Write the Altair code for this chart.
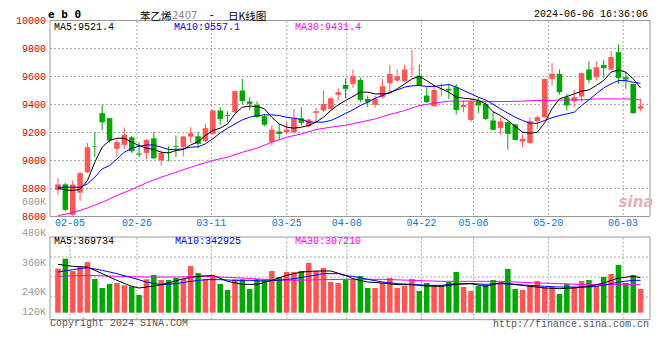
import altair as alt
import pandas as pd

# ---------------- data ----------------
date_labels = ["02-05", "02-26", "03-11", "03-25", "04-08", "04-22", "05-06", "05-20", "06-03"]
date_ticks = [1.64, 10.71, 20.8, 31.03, 39.16, 49.29, 56.36, 66.49, 76.63]

price_ticks = [10000, 9800, 9600, 9400, 9200, 9000, 8800, 8600]
price_grid = [9800, 9600, 9400, 9200, 9000, 8800]
vol_grid = [360000, 240000, 120000]

opens = [8790, 8830, 8612, 8770, 8916, 9102, 9338, 9302, 9083, 9112,
         9166, 9050, 9054, 9159, 9000, 9062, 9102, 9095, 9170, 9173,
         9140, 9190, 9357, 9324, 9345, 9500, 9421, 9397, 9316, 9131,
         9207, 9202, 9202, 9302, 9245, 9340, 9357, 9369, 9469, 9540,
         9547, 9576, 9440, 9397, 9452, 9552, 9571, 9566, 9652, 9607,
         9464, 9388, 9505, 9512, 9524, 9381, 9290, 9424, 9404, 9286,
         9233, 9274, 9257, 9136, 9124, 9281, 9309, 9583, 9619, 9452,
         9424, 9457, 9650, 9595, 9683, 9650, 9774, 9595, 9547, 9370]
closes = [8829, 8648, 8828, 8910, 9095, 9098, 9273, 9143, 9131, 9183,
          9066, 9042, 9147, 9016, 9054, 9056, 9096, 9172, 9195, 9119,
          9231, 9357, 9297, 9318, 9495, 9424, 9405, 9310, 9255, 9221,
          9190, 9221, 9302, 9269, 9293, 9352, 9404, 9445, 9488, 9512,
          9602, 9433, 9416, 9440, 9531, 9619, 9600, 9650, 9656, 9536,
          9417, 9504, 9509, 9500, 9361, 9397, 9421, 9393, 9297, 9219,
          9279, 9190, 9147, 9154, 9281, 9309, 9583, 9619, 9488, 9393,
          9452, 9624, 9576, 9666, 9660, 9738, 9590, 9578, 9338, 9388]
highs = [8874, 8840, 8857, 8920, 9126, 9202, 9397, 9305, 9150, 9236,
         9174, 9131, 9154, 9202, 9071, 9102, 9180, 9176, 9238, 9202,
         9261, 9362, 9381, 9352, 9500, 9583, 9452, 9421, 9333, 9250,
         9261, 9274, 9369, 9381, 9297, 9376, 9500, 9452, 9516, 9588,
         9650, 9595, 9464, 9464, 9583, 9683, 9650, 9683, 9790, 9686,
         9524, 9536, 9552, 9547, 9547, 9429, 9440, 9452, 9416, 9352,
         9309, 9276, 9260, 9186, 9309, 9321, 9585, 9695, 9650, 9476,
         9507, 9626, 9709, 9709, 9719, 9781, 9829, 9631, 9550, 9440]
lows = [8754, 8638, 8605, 8712, 8910, 9026, 9216, 9126, 9026, 9083,
        9054, 9024, 9011, 9011, 8964, 8993, 9024, 9030, 9125, 9088,
        9131, 9186, 9254, 9274, 9340, 9404, 9357, 9302, 9245, 9107,
        9143, 9190, 9197, 9250, 9238, 9274, 9345, 9364, 9429, 9445,
        9519, 9414, 9381, 9376, 9445, 9488, 9559, 9559, 9595, 9529,
        9411, 9385, 9457, 9440, 9328, 9345, 9274, 9338, 9290, 9215,
        9186, 9076, 9143, 9095, 9120, 9226, 9305, 9536, 9471, 9357,
        9381, 9421, 9552, 9571, 9590, 9643, 9547, 9511, 9335, 9352]
volumes = [290000, 350000, 276000, 300000, 330000, 228000, 174000, 198000, 204000, 190000,
           184000, 132000, 226000, 252000, 222000, 222000, 234000, 228000, 306000, 264000,
           228000, 248000, 198000, 162000, 226000, 226000, 168000, 228000, 226000, 276000,
           240000, 270000, 270000, 276000, 324000, 276000, 294000, 210000, 204000, 226000,
           226000, 246000, 174000, 174000, 204000, 234000, 174000, 186000, 228000, 156000,
           204000, 192000, 192000, 210000, 270000, 180000, 156000, 186000, 192000, 222000,
           204000, 288000, 168000, 162000, 186000, 216000, 180000, 180000, 138000, 198000,
           180000, 216000, 222000, 186000, 240000, 258000, 312000, 204000, 252000, 168000]

ma5 = [8802, 8790, 8786, 8793, 8857, 8988, 9095, 9143, 9159, 9159,
       9131, 9107, 9088, 9079, 9059, 9054, 9071, 9079, 9111, 9133,
       9179, 9214, 9231, 9261, 9333, 9381, 9388, 9386, 9369, 9309,
       9261, 9238, 9231, 9238, 9250, 9274, 9309, 9357, 9397, 9429,
       9457, 9488, 9488, 9476, 9476, 9481, 9512, 9547, 9583, 9600,
       9571, 9536, 9512, 9488, 9452, 9445, 9440, 9429, 9404, 9348,
       9321, 9286, 9243, 9202, 9195, 9202, 9270, 9370, 9440, 9457,
       9476, 9495, 9504, 9536, 9571, 9631, 9647, 9631, 9583, 9519]
ma10 = [8809, 8809, 8809, 8809, 8833, 8881, 8940, 8964, 9011, 9059,
        9088, 9102, 9111, 9111, 9095, 9079, 9079, 9083, 9095, 9098,
        9119, 9155, 9197, 9231, 9261, 9290, 9309, 9321, 9326, 9326,
        9321, 9309, 9302, 9293, 9274, 9274, 9274, 9286, 9309, 9337,
        9361, 9393, 9416, 9445, 9464, 9488, 9504, 9524, 9533, 9536,
        9529, 9529, 9536, 9543, 9524, 9500, 9476, 9452, 9433, 9401,
        9369, 9338, 9309, 9286, 9266, 9266, 9286, 9305, 9321, 9333,
        9345, 9393, 9433, 9476, 9519, 9547, 9571, 9571, 9559, 9552]
ma30_idx = [0, 2, 4, 6, 8, 10, 12, 14, 16, 18, 19, 21, 23, 25, 27, 29, 31, 33, 35, 37, 39,
            41, 43, 45, 47, 49, 51, 53, 55, 57, 59, 61, 63, 65, 67, 69, 71, 73, 75, 77, 79]
ma30 = [8607, 8626, 8661, 8702, 8750, 8793, 8840, 8881, 8916, 8952, 8969, 9000, 9024, 9059,
        9088, 9131, 9166, 9190, 9221, 9238, 9252, 9274, 9297, 9329, 9357, 9393, 9409, 9424,
        9424, 9424, 9421, 9421, 9424, 9429, 9429, 9433, 9433, 9440, 9440, 9440, 9433]

vma5_idx = [0, 2, 4, 6, 8, 10, 11, 13, 15, 17, 19, 21, 23, 25, 27, 29, 31, 33, 35, 37, 39,
            40, 42, 44, 46, 48, 50, 52, 54, 56, 58, 60, 62, 64, 66, 68, 70, 72, 74, 76, 78, 79]
vma5 = [316000, 304000, 300000, 260000, 220000, 184000, 174000, 186000, 204000, 230000, 244000,
        250000, 214000, 196000, 196000, 220000, 250000, 270000, 276000, 276000, 250000,
        230000, 210000, 204000, 194000, 194000, 186000, 184000, 196000, 200000, 184000,
        206000, 196000, 184000, 174000, 170000, 174000, 184000, 204000, 234000, 244000, 236000]
vma10_idx = [0, 2, 4, 6, 8, 10, 12, 14, 16, 18, 20, 22, 24, 26, 28, 30, 32, 34, 36, 38, 39,
             40, 42, 44, 46, 48, 50, 52, 54, 56, 58, 60, 62, 64, 66, 68, 70, 72, 74, 76, 78, 79]
vma10 = [270000, 284000, 296000, 280000, 260000, 236000, 210000, 194000, 200000, 214000,
         224000, 224000, 220000, 220000, 216000, 220000, 230000, 244000, 260000, 260000, 248000,
         244000, 226000, 210000, 200000, 196000, 190000, 190000, 200000, 200000, 196000,
         200000, 194000, 190000, 184000, 180000, 180000, 180000, 190000, 210000, 220000, 220000]
vma30_idx = [0, 4, 8, 12, 16, 20, 24, 28, 32, 36, 39, 40, 44, 48, 52, 56, 60, 64, 68, 72, 76, 79]
vma30 = [244000, 250000, 244000, 240000, 240000, 244000, 236000, 226000, 220000, 224000, 226000,
         226000, 226000, 220000, 214000, 214000, 214000, 206000, 200000, 194000, 196000, 194000]

# ---------------- chart ----------------
N = len(closes)
df = pd.DataFrame({"i": list(range(N)), "open": opens, "high": highs, "low": lows,
                   "close": closes, "vol": volumes, "ma5": ma5, "ma10": ma10})
df["dir"] = ["up" if c >= o else "down" for o, c in zip(opens, closes)]

W, H = 600, 300
MONO = "Liberation Mono"
RED, GREEN = "#ff5555", "#00a800"
GRID = "#aaaaaa"
FRAME = "#999999"

X = alt.Scale(domain=[-0.4, 79.6], nice=False, zero=False)
PS = alt.Scale(domain=[7860.7, 10003.6], nice=False, zero=False)
VS = alt.Scale(domain=[-18000, 1782000], nice=False, zero=False)
COL = alt.Color("dir:N", scale=alt.Scale(domain=["up", "down"], range=[RED, GREEN]), legend=None)


def xq(field):
    return alt.X(f"{field}:Q", scale=X, axis=None)


def yq(field, scale):
    return alt.Y(f"{field}:Q", scale=scale, axis=None)


def text(t, x, y, color="#000000", size=10, align="left", baseline="middle",
         font=MONO, weight="normal", style="normal"):
    return alt.Chart(pd.DataFrame({"t": [t]})).mark_text(
        align=align, baseline=baseline, font=font, fontSize=size, color=color,
        fontWeight=weight, fontStyle=style
    ).encode(x=alt.value(x), y=alt.value(y), text="t:N")


layers = []

# frames
layers.append(alt.Chart(pd.DataFrame({"a": [10000], "b": [8600]})).mark_rect(
    fill="transparent", stroke=FRAME, strokeWidth=1
).encode(x=alt.value(0), x2=alt.value(W), y=yq("a", PS), y2="b:Q"))
layers.append(alt.Chart(pd.DataFrame({"a": [480000], "b": [-16000]})).mark_rect(
    fill="transparent", stroke=FRAME, strokeWidth=1
).encode(x=alt.value(0), x2=alt.value(W), y=yq("a", VS), y2="b:Q"))

# grid lines
layers.append(alt.Chart(pd.DataFrame({"p": price_grid})).mark_rule(
    color=GRID, strokeDash=[2, 2], strokeWidth=1
).encode(y=yq("p", PS), x=alt.value(0), x2=alt.value(W)))
layers.append(alt.Chart(pd.DataFrame({"p": vol_grid})).mark_rule(
    color=GRID, strokeDash=[2, 2], strokeWidth=1
).encode(y=yq("p", VS), x=alt.value(0), x2=alt.value(W)))
layers.append(alt.Chart(pd.DataFrame({"p": date_ticks[1:]})).mark_rule(
    color=GRID, strokeDash=[2, 2], strokeWidth=1
).encode(x=xq("p"), y=alt.value(1), y2=alt.value(196)))
layers.append(alt.Chart(pd.DataFrame({"p": date_ticks})).mark_rule(
    color=GRID, strokeDash=[2, 2], strokeWidth=1
).encode(x=xq("p"), y=alt.value(217.5), y2=alt.value(299)))

base = alt.Chart(df)
# volume bars and MAs
layers.append(base.mark_bar(size=5.5).encode(
    x=xq("i"), y=yq("vol", VS), y2=alt.datum(25800), color=COL))
for idx, vals, color in [(vma30_idx, vma30, "#ff00ff"), (vma10_idx, vma10, "#0000ff"),
                         (vma5_idx, vma5, "#000000")]:
    layers.append(alt.Chart(pd.DataFrame({"i": idx, "v": vals})).mark_line(
        strokeWidth=1, color=color).encode(x=xq("i"), y=yq("v", VS)))

# candles
layers.append(base.mark_rule(strokeWidth=1).encode(
    x=xq("i"), y=yq("low", PS), y2="high:Q", color=COL))
layers.append(base.mark_bar(size=5.5).encode(
    x=xq("i"), y=yq("open", PS), y2="close:Q", color=COL))

# price MAs
layers.append(alt.Chart(pd.DataFrame({"i": ma30_idx, "v": ma30})).mark_line(
    strokeWidth=1, color="#ff00ff").encode(x=xq("i"), y=yq("v", PS)))
layers.append(base.mark_line(strokeWidth=1, color="#0000ff").encode(x=xq("i"), y=yq("ma10", PS)))
layers.append(base.mark_line(strokeWidth=1, color="#000000").encode(x=xq("i"), y=yq("ma5", PS)))

# axis labels
layers.append(alt.Chart(pd.DataFrame({"p": price_ticks, "t": [str(p) for p in price_ticks]})).mark_text(
    align="right", baseline="middle", font=MONO, fontSize=10, color="#e00000"
).encode(y=yq("p", PS), x=alt.value(-4), text="t:N"))
layers.append(alt.Chart(pd.DataFrame({"p": date_ticks, "t": date_labels})).mark_text(
    align="center", baseline="middle", font=MONO, fontSize=10, color="#0a78d2"
).encode(x=xq("p"), y=alt.value(203), text="t:N"))
for t, y in [("600K", 182), ("480K", 213), ("360K", 243), ("240K", 272), ("120K", 292)]:
    layers.append(text(t, -4, y, color="#999999", align="right"))

# legends
layers.append(text("MA5:9521.4", 4, 6.5, "#000000"))
layers.append(text("MA10:9557.1", 124, 6.5, "#0000ff"))
layers.append(text("MA30:9431.4", 245, 6.5, "#ff00ff"))
layers.append(text("MA5:369734", 4, 220.5, "#000000"))
layers.append(text("MA10:342925", 125, 220.5, "#0000ff"))
layers.append(text("MA30:307210", 245, 220.5, "#ff00ff"))

# titles and footer
layers.append(text("e b 0", -2, -2.5, "#000000", size=11, baseline="alphabetic",
                   font="DejaVu Sans Mono", weight="bold"))
layers.append(text("苯乙烯", 90, 0.3, "#000000", size=10.5, baseline="alphabetic", font="Noto Sans CJK SC"))
layers.append(text("2407", 122, -1.5, "#888888", size=10, baseline="alphabetic", font="DejaVu Sans"))
layers.append(text("-", 161.7, -2, "#000000", size=11, align="center", baseline="alphabetic", font=MONO))
layers.append(text("日K线图", 178, 0.3, "#000000", size=10.5, baseline="alphabetic", font="Noto Sans CJK SC"))
layers.append(text("2024-06-06 16:36:06", 598, -3.5, "#000000", align="right", baseline="alphabetic"))
layers.append(text("Copyright 2024 SINA.COM", 0, 306, "#555555", baseline="alphabetic"))
layers.append(text("http://finance.sina.com.cn", 599, 307, "#555555", align="right", baseline="alphabetic"))
layers.append(text("sina", 586, 187, "#e2b3b3", size=15, align="center", baseline="alphabetic",
                   font="DejaVu Sans", weight="bold", style="italic"))

chart = alt.layer(*layers).resolve_scale(y="independent").properties(
    width=W, height=H,
    padding={"left": 42, "top": 12, "right": 2, "bottom": 20},
    autosize=alt.AutoSizeParams(type="none"),
    background="#ffffff",
).configure_view(stroke=None)

chart.save("out.html", embed_options={"renderer": "svg", "actions": False})
